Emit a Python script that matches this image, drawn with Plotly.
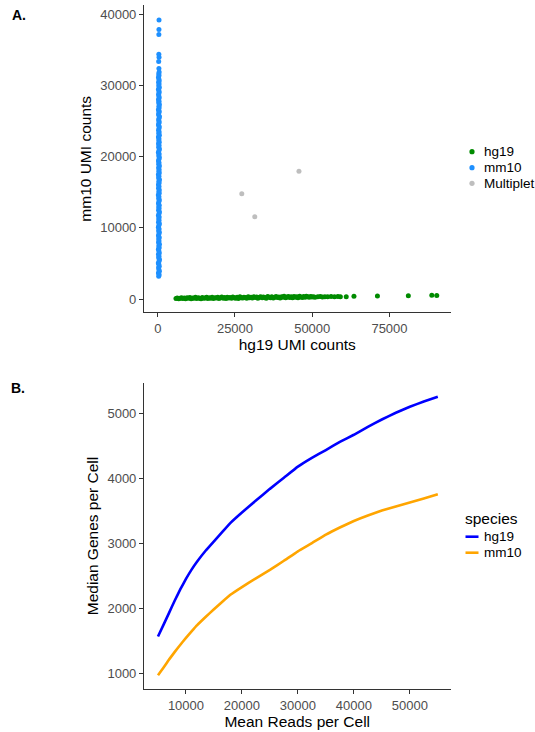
import plotly.graph_objects as go

# ---------------- Panel A data: UMI counts per barcode ----------------
hg19_points = [
    (5900, 60), (6300, 150), (6800, 20), (7200, 110), (7700, 190), (8100, 70), (8600, 130), (9000, 40),
    (9500, 170), (9900, 90), (10400, 210), (10800, 50), (11300, 140), (11700, 100), (12200, 230), (12600, 60),
    (13100, 170), (13500, 120), (14000, 30), (14400, 200), (14900, 90), (15300, 150), (15800, 240), (16200, 70),
    (16700, 180), (17100, 110), (17600, 260), (18000, 60), (18500, 190), (18900, 140), (19400, 230), (19800, 80),
    (20300, 170), (20700, 280), (21200, 120), (21600, 200), (22100, 60), (22500, 250), (23000, 150), (23400, 210),
    (23900, 100), (24300, 290), (24800, 180), (25200, 120), (25700, 240), (26100, 70), (26600, 300), (27000, 190),
    (27500, 140), (27900, 260), (28400, 210), (28800, 90), (29300, 310), (29700, 170), (30200, 240), (30600, 130),
    (31100, 320), (31500, 200), (32000, 270), (32400, 110), (32900, 230), (33300, 330), (33800, 160), (34200, 280),
    (34700, 210), (35100, 120), (35600, 340), (36000, 250), (36500, 180), (36900, 300), (37400, 140), (37800, 260),
    (38300, 350), (38700, 200), (39200, 290), (39600, 150), (40100, 320), (40500, 230), (40900, 380), (41400, 180),
    (41800, 270), (42300, 340), (42700, 210), (43200, 300), (43600, 160), (44100, 360), (44500, 250), (45000, 310),
    (45400, 190), (45900, 370), (46300, 280), (46800, 220), (47200, 340), (47700, 260), (48100, 390), (48600, 300),
    (49000, 230), (49500, 350), (49900, 280), (50400, 320), (50900, 250), (51800, 300), (52600, 340), (53300, 290),
    (54100, 330), (55000, 300), (56100, 350), (57200, 310), (58300, 340), (59100, 300), (61000, 330), (63500, 380),
    (71100, 420), (81100, 450), (88700, 520), (90300, 480),
]

mm10_points = [
    (310, 3180), (450, 3420), (220, 3650), (520, 3910), (380, 4120), (270, 4380), (480, 4590), (340, 4870),
    (190, 5060), (430, 5330), (560, 5540), (290, 5810), (400, 6020), (240, 6290), (500, 6470), (360, 6750),
    (210, 6980), (470, 7210), (330, 7460), (540, 7690), (260, 7930), (410, 8150), (300, 8420), (490, 8640),
    (230, 8890), (370, 9120), (510, 9370), (280, 9580), (440, 9840), (200, 10070), (350, 10310), (530, 10560),
    (250, 10790), (420, 11020), (320, 11280), (460, 11510), (210, 11740), (390, 11990), (550, 12230), (270, 12460),
    (430, 12710), (310, 12940), (480, 13180), (240, 13420), (360, 13650), (520, 13900), (290, 14130), (400, 14370),
    (190, 14610), (470, 14850), (340, 15080), (500, 15320), (260, 15570), (410, 15800), (230, 16040), (450, 16290),
    (330, 16510), (560, 16760), (280, 17000), (390, 17230), (210, 17480), (490, 17710), (350, 17960), (440, 18190),
    (270, 18440), (530, 18670), (300, 18920), (420, 19150), (240, 19400), (380, 19630), (510, 19880), (320, 20110),
    (460, 20360), (200, 20590), (370, 20840), (540, 21070), (290, 21320), (430, 21550), (250, 21800), (480, 22030),
    (340, 22280), (400, 22510), (220, 22760), (520, 22990), (310, 23240), (450, 23470), (270, 23720), (390, 23950),
    (500, 24200), (230, 24430), (360, 24680), (470, 24910), (280, 25160), (410, 25390), (550, 25640), (260, 25870),
    (330, 26120), (490, 26350), (210, 26600), (440, 26830), (370, 27080), (520, 27310), (300, 27560), (420, 27790),
    (240, 28040), (480, 28270), (350, 28520), (270, 28750), (460, 29000), (390, 29230), (220, 29480), (510, 29710),
    (320, 29960), (430, 30190), (280, 30440), (470, 30670), (360, 30920), (250, 31150), (400, 31400), (330, 31650),
    (450, 31880), (380, 32380), (300, 33380), (420, 33960), (350, 34380), (360, 37150), (390, 37850), (410, 39200),
]

multiplet_points = [(27200, 14800), (31400, 11560), (45700, 17940)]

scatter_labels = ["hg19", "mm10", "Multiplet"]
scatter_colors = ["#008B00", "#1E90FF", "#BEBEBE"]

umi_xticks = [0, 25000, 50000, 75000]
umi_yticks = [0, 10000, 20000, 30000, 40000]

# ---------------- Panel B data: saturation curves ----------------
mean_reads = [5000, 6000, 7000, 8000, 9000, 10000, 11000, 12000, 13500, 15000, 16500, 18000, 20000,
              22500, 25000, 27500, 30000, 32500, 35000, 37500, 40000, 42500, 45000, 47500, 50000, 52500, 55000]
genes_hg19 = [1570, 1753, 1938, 2124, 2298, 2455, 2598, 2722, 2888, 3034, 3177, 3320, 3476,
              3660, 3839, 4009, 4180, 4315, 4435, 4560, 4670, 4790, 4905, 5008, 5100, 5182, 5255]
genes_mm10 = [975, 1095, 1220, 1335, 1445, 1550, 1650, 1745, 1870, 1990, 2105, 2215, 2330,
              2465, 2595, 2735, 2880, 3005, 3135, 3245, 3345, 3430, 3505, 3568, 3628, 3690, 3755]

line_labels = ["hg19", "mm10"]
line_colors = ["#0000FF", "#FFA500"]

reads_xticks = [10000, 20000, 30000, 40000, 50000]
genes_yticks = [1000, 2000, 3000, 4000, 5000]

# ---------------- figure ----------------
W, H = 535, 732
FONT = "Liberation Sans, Arial, Helvetica, sans-serif"
TICKCOL = "#4D4D4D"


def px(x):
    return x / W


def py(y):
    return 1 - y / H


fig = go.Figure()

for pts, name, col in zip([hg19_points, mm10_points, multiplet_points], scatter_labels, scatter_colors):
    fig.add_trace(go.Scatter(
        x=[p[0] for p in pts], y=[p[1] for p in pts], mode="markers", name=name,
        marker=dict(color=col, size=5, line=dict(width=0)),
        xaxis="x", yaxis="y", showlegend=False,
    ))

for ys, name, col in zip([genes_hg19, genes_mm10], line_labels, line_colors):
    fig.add_trace(go.Scatter(
        x=mean_reads, y=ys, mode="lines", name=name,
        line=dict(color=col, width=2.6, shape="spline", smoothing=0.3),
        xaxis="x2", yaxis="y2", showlegend=False,
    ))

axis_common = dict(
    showgrid=False, zeroline=False, showline=True, linecolor="#333333", linewidth=1.1,
    ticks="outside", ticklen=4, tickcolor="#333333", tickwidth=1,
    tickfont=dict(family=FONT, size=13, color=TICKCOL), tickformat="d",
)
title_font = dict(family=FONT, size=15.5, color="#000000")

fig.update_layout(
    width=W, height=H, margin=dict(l=0, r=0, t=0, b=0),
    paper_bgcolor="white", plot_bgcolor="white",
    font=dict(family=FONT),
    xaxis=dict(domain=[px(144), px(450.5)], anchor="y", range=[-4450, 94750], tickvals=umi_xticks,
               title=dict(text="hg19 UMI counts", font=title_font, standoff=4), **axis_common),
    yaxis=dict(domain=[py(312.3), py(5.3)], anchor="x", range=[-1869, 41264], tickvals=umi_yticks,
               title=dict(text="mm10 UMI counts", font=title_font, standoff=4), **axis_common),
    xaxis2=dict(domain=[px(144), px(450.5)], anchor="y2", range=[2500, 57270], tickvals=reads_xticks,
                title=dict(text="Mean Reads per Cell", font=title_font, standoff=4), **axis_common),
    yaxis2=dict(domain=[py(689.3), py(382.7)], anchor="x2", range=[760, 5470], tickvals=genes_yticks,
                title=dict(text="Median Genes per Cell", font=title_font, standoff=5), **axis_common),
    showlegend=False,
)

annotations = [
    dict(text="<b>A.</b>", x=px(10), y=py(15.5), xanchor="left", yanchor="middle"),
    dict(text="<b>B.</b>", x=px(9), y=py(388), xanchor="left", yanchor="middle"),
]
for a in annotations:
    a.update(xref="paper", yref="paper", showarrow=False, font=dict(family=FONT, size=14, color="#000"))

shapes = []
# legend for panel A
leg_a_y = [151.7, 167.7, 183.3]
for yy, name, col in zip(leg_a_y, scatter_labels, scatter_colors):
    r = 2.6
    shapes.append(dict(type="circle", xref="paper", yref="paper",
                       x0=px(472 - r), x1=px(472 + r), y0=py(yy + r), y1=py(yy - r),
                       fillcolor=col, line=dict(width=0)))
    annotations.append(dict(text=name, x=px(482), y=py(yy), xref="paper", yref="paper",
                            xanchor="left", yanchor="middle", showarrow=False,
                            font=dict(family=FONT, size=13.5, color="#000")))
# legend for panel B
annotations.append(dict(text="species", x=px(462.5), y=py(518.3), xref="paper", yref="paper",
                        xanchor="left", yanchor="middle", showarrow=False,
                        font=dict(family=FONT, size=15.5, color="#000")))
leg_b_y = [536.7, 552.7]
for yy, name, col in zip(leg_b_y, line_labels, line_colors):
    shapes.append(dict(type="line", xref="paper", yref="paper",
                       x0=px(465.5), x1=px(478.5), y0=py(yy), y1=py(yy),
                       line=dict(color=col, width=2.6)))
    annotations.append(dict(text=name, x=px(482), y=py(yy), xref="paper", yref="paper",
                            xanchor="left", yanchor="middle", showarrow=False,
                            font=dict(family=FONT, size=13.5, color="#000")))

fig.update_layout(annotations=annotations, shapes=shapes)

fig.write_html("out.html", config={"displayModeBar": False},
               post_script="document.body.style.margin='0';")
